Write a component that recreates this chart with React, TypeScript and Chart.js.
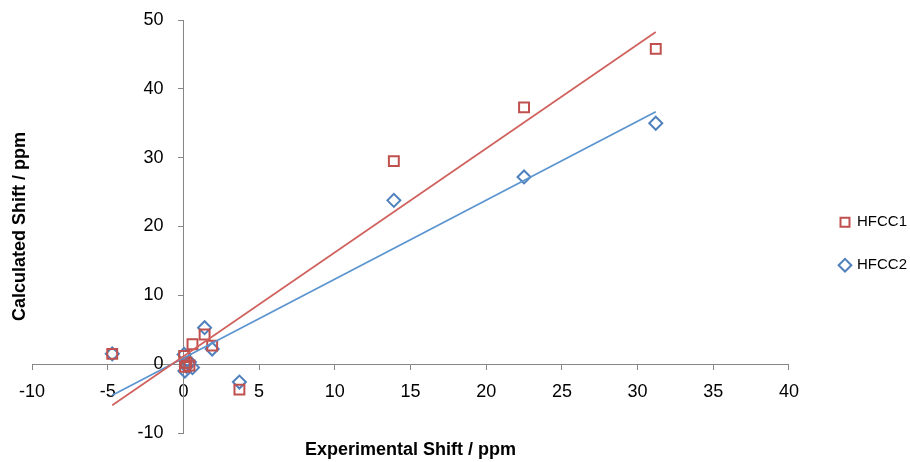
import React, { useEffect, useRef } from 'react';
import { Chart, registerables, LinearScale } from 'chart.js';

// ---- data ----
const experimentalShift = [-4.7, 0.05, 0.1, 0.2, 0.4, 0.6, 1.4, 1.9, 3.7, 13.9, 22.5, 31.2];
const hfcc1Shift = [1.5, 1.2, -0.4, 0.2, -0.2, 2.9, 4.3, 2.7, -3.7, 29.5, 37.3, 45.8];
const hfcc2Shift = [1.5, 1.4, -1.0, -0.3, 0.3, -0.5, 5.3, 2.2, -2.6, 23.8, 27.2, 35.0];
const seriesNames = ['HFCC1', 'HFCC2'];
const xTickValues = [-10, -5, 0, 5, 10, 15, 20, 25, 30, 35, 40];
const yTickValues = [-10, 0, 10, 20, 30, 40, 50];
const xTitle = 'Experimental Shift / ppm';
const yTitle = 'Calculated Shift / ppm';

// ---- styles ----
const FONT = '"Liberation Sans", Arial, sans-serif';
const AXIS_GRAY = '#868686';
const RED = '#C0504D';
const BLUE = '#4F81BD';
const RED_TREND = '#D0625E';
const BLUE_TREND = '#5B94CF';
const Y_LABEL_GAP = 20; // distance from crossing y axis line to its tick labels

// Linear scale whose vertical tick labels keep a gap from an axis placed at a data value
class CrossedLinearScale extends (LinearScale as any) {
  static id = 'crossedLinear';
  static defaults = (LinearScale as any).defaults;
  _computeLabelItems(chartArea: any) {
    const items = super._computeLabelItems(chartArea);
    if (!(this as any).isHorizontal()) {
      items.forEach((it: any) => {
        it.options.translation[0] -= Y_LABEL_GAP;
      });
    }
    return items;
  }
}

Chart.register(...registerables, CrossedLinearScale as any);

type Pt = { x: number; y: number };

function toPoints(xs: number[], ys: number[]): Pt[] {
  return xs.map((x, i) => ({ x, y: ys[i] }));
}

// Least-squares linear trendline spanning the data's x range
function trendline(xs: number[], ys: number[]): Pt[] {
  const n = xs.length;
  const mx = xs.reduce((a, b) => a + b, 0) / n;
  const my = ys.reduce((a, b) => a + b, 0) / n;
  let sxx = 0;
  let sxy = 0;
  for (let i = 0; i < n; i++) {
    sxx += (xs[i] - mx) * (xs[i] - mx);
    sxy += (xs[i] - mx) * (ys[i] - my);
  }
  const slope = sxy / sxx;
  const intercept = my - slope * mx;
  const x0 = Math.min(...xs);
  const x1 = Math.max(...xs);
  return [
    { x: x0, y: intercept + slope * x0 },
    { x: x1, y: intercept + slope * x1 },
  ];
}

const axisTitles = {
  id: 'axisTitles',
  afterDraw(chart: any) {
    const { ctx, chartArea } = chart;
    const { left, right, top, bottom } = chartArea;
    ctx.save();
    ctx.font = `bold 18px ${FONT}`;
    ctx.fillStyle = '#000';
    ctx.textAlign = 'center';
    ctx.textBaseline = 'middle';
    ctx.fillText(xTitle, (left + right) / 2, bottom + 17);
    ctx.translate(left - 12, (top + bottom) / 2);
    ctx.rotate(-Math.PI / 2);
    ctx.fillText(yTitle, 0, 0);
    ctx.restore();
  },
};

export default function App() {
  const ref = useRef<HTMLCanvasElement | null>(null);

  useEffect(() => {
    if (!ref.current) return;
    const chart = new Chart(ref.current, {
      type: 'scatter',
      data: {
        datasets: [
          {
            label: seriesNames[0],
            data: toPoints(experimentalShift, hfcc1Shift),
            pointStyle: 'rect',
            pointRadius: 7,
            pointHoverRadius: 7,
            borderColor: RED,
            backgroundColor: 'rgba(255,255,255,0)',
            borderWidth: 2,
            order: 1,
          },
          {
            label: seriesNames[1],
            data: toPoints(experimentalShift, hfcc2Shift),
            pointStyle: 'rectRot',
            pointRadius: 6.5,
            pointHoverRadius: 6.5,
            borderColor: BLUE,
            backgroundColor: 'rgba(255,255,255,0)',
            borderWidth: 2,
            order: 1,
          },
          {
            label: 'trend1',
            data: trendline(experimentalShift, hfcc1Shift),
            showLine: true,
            pointRadius: 0,
            borderColor: RED_TREND,
            borderWidth: 1.75,
            order: 0,
          },
          {
            label: 'trend2',
            data: trendline(experimentalShift, hfcc2Shift),
            showLine: true,
            pointRadius: 0,
            borderColor: BLUE_TREND,
            borderWidth: 1.75,
            order: 0,
          },
        ],
      },
      options: {
        responsive: false,
        animation: false,
        devicePixelRatio: 1,
        layout: { padding: { left: 32, top: 20, bottom: 29, right: 3 } },
        scales: {
          x: {
            type: 'linear',
            position: { y: 0 } as any,
            min: xTickValues[0],
            max: xTickValues[xTickValues.length - 1],
            ticks: {
              stepSize: xTickValues[1] - xTickValues[0],
              font: { family: FONT, size: 18 },
              color: '#000',
              padding: 12,
              maxRotation: 0,
            },
            grid: { drawOnChartArea: false, color: AXIS_GRAY, tickLength: 5 },
            border: { color: AXIS_GRAY, width: 1 },
          },
          y: {
            type: 'crossedLinear',
            position: { x: 0 } as any,
            min: yTickValues[0],
            max: yTickValues[yTickValues.length - 1],
            ticks: {
              stepSize: yTickValues[1] - yTickValues[0],
              font: { family: FONT, size: 18 },
              color: '#000',
              padding: 0,
            },
            grid: { drawOnChartArea: false, color: AXIS_GRAY, tickLength: 5 },
            border: { color: AXIS_GRAY, width: 1 },
          } as any,
          spacer: {
            type: 'linear',
            axis: 'y',
            position: 'right',
            display: true,
            grid: { display: false, drawTicks: false },
            ticks: { display: false },
            border: { display: false },
            afterFit: (s: any) => {
              s.width = 23.5;
            },
          } as any,
        },
        plugins: {
          legend: {
            position: 'right',
            title: { display: true, text: '', padding: { top: 0, bottom: 20 }, font: { size: 12 } },
            labels: {
              usePointStyle: true,
              boxWidth: 9,
              boxHeight: 9,
              padding: 28,
              color: '#000',
              font: { family: FONT, size: 15 },
              filter: (item: any) => item.datasetIndex < 2,
            },
          },
          tooltip: { enabled: false },
        },
      },
      plugins: [axisTitles],
    });
    return () => chart.destroy();
  }, []);

  return (
    <div
      style={{
        position: 'absolute',
        left: 0,
        top: 0,
        width: 910,
        height: 462,
        overflow: 'hidden',
        background: '#fff',
      }}
    >
      <canvas ref={ref} width={920} height={462} style={{ display: 'block', width: 920, height: 462 }} />
    </div>
  );
}
